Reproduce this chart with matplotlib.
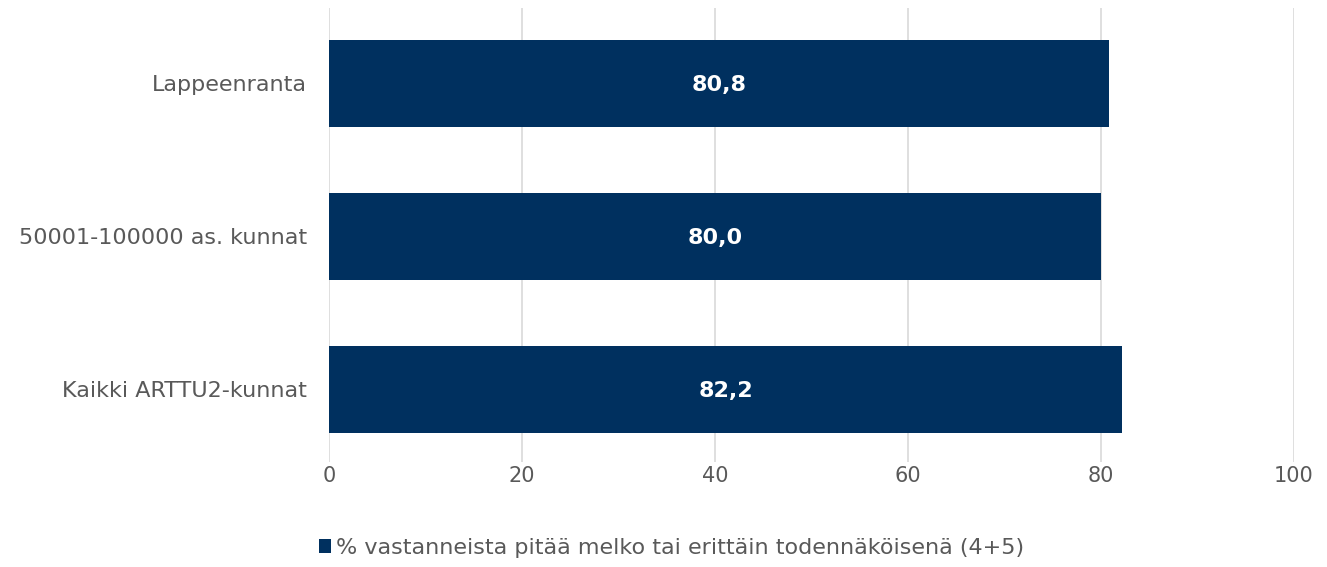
import matplotlib.pyplot as plt
import numpy as np

# data
categories = ['Lappeenranta', '50001-100000 as. kunnat', 'Kaikki ARTTU2-kunnat']
values = [80.8, 80.0, 82.2]
series_name = '% vastanneista pitää melko tai erittäin todennäköisenä (4+5)'
xticks = [0, 20, 40, 60, 80, 100]

bar_color = '#00305F'
text_color = '#595959'

plt.rcParams['font.family'] = ['DejaVu Sans']

fig = plt.figure(figsize=(13.27, 5.67), dpi=100)
ax = fig.add_axes([329 / 1327, 1 - 462 / 567, (1294 - 329) / 1327, (462 - 8) / 567])

positions = np.arange(len(categories))
bars = ax.barh(positions, values, height=0.57, color=bar_color, label=series_name, zorder=2)

# value labels in the middle of each bar
for pos, val in zip(positions, values):
    ax.text(val / 2, pos, f'{val:.1f}'.replace('.', ','), ha='center', va='center_baseline',
            color='white', fontsize=16, fontweight='bold', zorder=3)

ax.set_xlim(0, 100)
ax.set_ylim(2.474, -0.493)
ax.set_xticks(xticks)
ax.set_xticklabels([str(t) for t in xticks])
ax.set_yticks(positions)
ax.set_yticklabels(categories)
ax.tick_params(axis='x', length=0, labelsize=15, labelcolor=text_color, pad=3)
ax.tick_params(axis='y', length=0, labelsize=16, labelcolor=text_color, pad=16)

ax.grid(axis='x', color='#D9D9D9', linewidth=1.2, zorder=0)
for spine in ax.spines.values():
    spine.set_visible(False)

fig.legend(handles=[bars], labels=[series_name], loc='center', bbox_to_anchor=(0.506, 0.034),
           frameon=False, fontsize=16, labelcolor=text_color,
           handlelength=0.55, handleheight=0.55, handletextpad=0.2)

fig.savefig('out.png', dpi=100)
